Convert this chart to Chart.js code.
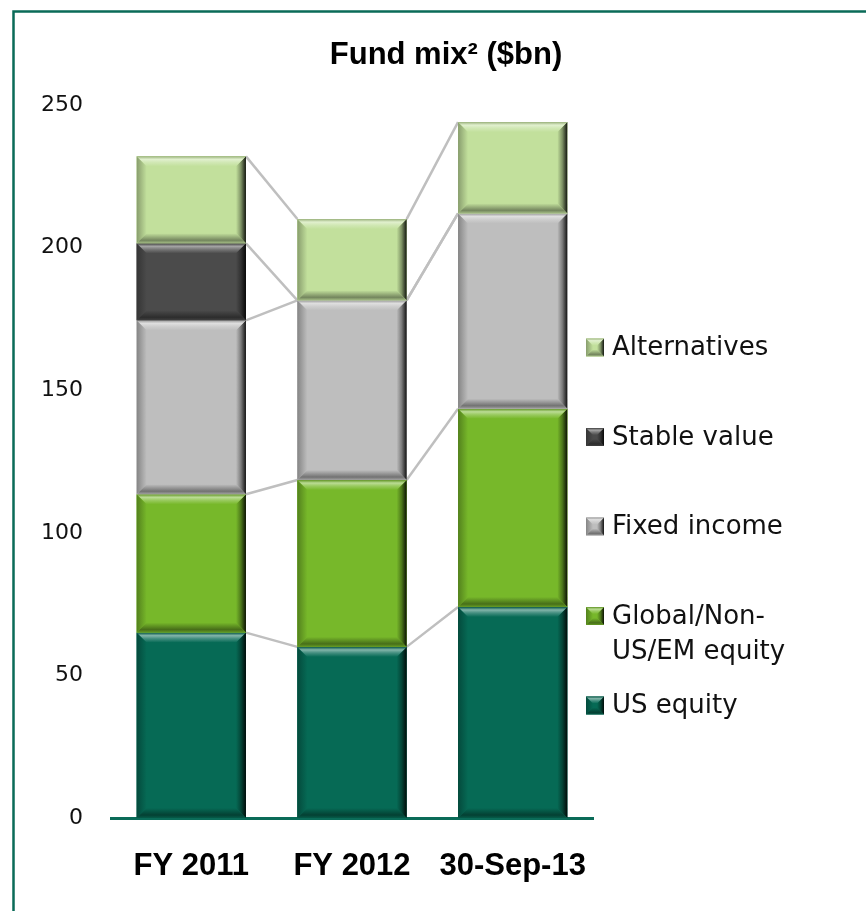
<!DOCTYPE html>
<html>
<head>
<meta charset="utf-8">
<script src="https://cdn.jsdelivr.net/npm/chart.js@4.4.1/dist/chart.umd.min.js"></script>
<style>
  html, body { margin: 0; padding: 0; background: #fff; }
  #chart { display: block; }
</style>
</head>
<body>
<canvas id="chart" width="866" height="911"></canvas>
<script>
// Values ($bn)
const categories = ['FY 2011', 'FY 2012', '30-Sep-13'];
const usEquity = [65, 60, 74];
const globalEquity = [48.5, 58.5, 69.5];
const fixedIncome = [61, 63, 68.5];
const stableValue = [27, 0, 0];
const alternatives = [30.5, 28.5, 32];

const seriesNames = ['US equity', 'Global/Non-US/EM equity', 'Fixed income', 'Stable value', 'Alternatives'];
const legendLines = [['US equity'], ['Global/Non-', 'US/EM equity'], ['Fixed income'], ['Stable value'], ['Alternatives']];
const seriesColors = ['#066A55', '#77B82A', '#BEBEBE', '#4B4B4B', '#C2E09C'];
const yTicks = [0, 50, 100, 150, 200, 250];

const FRAME = '#0A6B58';
const CONNECTOR = '#BFBFBF';

// mix a hex colour with white (f > 0) or black (f < 0)
function mix(hex, f) {
    const n = parseInt(hex.slice(1), 16);
    let r = n >> 16, g = (n >> 8) & 255, b = n & 255;
    const t = f > 0 ? 255 : 0, p = Math.abs(f);
    r = Math.round(r + (t - r) * p);
    g = Math.round(g + (t - g) * p);
    b = Math.round(b + (t - b) * p);
    return `rgb(${r},${g},${b})`;
}

function poly(ctx, pts, fill) {
    ctx.beginPath();
    ctx.moveTo(pts[0][0], pts[0][1]);
    for (let i = 1; i < pts.length; i++) ctx.lineTo(pts[i][0], pts[i][1]);
    ctx.closePath();
    ctx.fillStyle = fill;
    ctx.fill();
}

// Excel style bevel on a rectangle
function bevel(ctx, l, t, r, b, color, size) {
    const s = Math.min(size, (b - t) / 2, (r - l) / 2);
    ctx.fillStyle = color;
    ctx.fillRect(l, t, r - l, b - t);

    let g = ctx.createLinearGradient(l, 0, l + s, 0);
    g.addColorStop(0, mix(color, -0.3));
    g.addColorStop(1, color);
    poly(ctx, [[l, t], [l + s, t + s], [l + s, b - s], [l, b]], g);

    g = ctx.createLinearGradient(r - s, 0, r, 0);
    g.addColorStop(0, color);
    g.addColorStop(0.5, mix(color, -0.35));
    g.addColorStop(1, mix(color, -0.9));
    poly(ctx, [[r, t], [r, b], [r - s, b - s], [r - s, t + s]], g);

    g = ctx.createLinearGradient(0, t, 0, t + s);
    g.addColorStop(0, mix(color, -0.2));
    g.addColorStop(0.3, mix(color, 0.5));
    g.addColorStop(0.6, mix(color, 0.25));
    g.addColorStop(1, color);
    poly(ctx, [[l, t], [r, t], [r - s, t + s], [l + s, t + s]], g);

    g = ctx.createLinearGradient(0, b - s, 0, b);
    g.addColorStop(0, color);
    g.addColorStop(0.7, mix(color, -0.4));
    g.addColorStop(1, mix(color, -0.15));
    poly(ctx, [[l, b], [r, b], [r - s, b - s], [l + s, b - s]], g);
}

const decorPlugin = {
    id: 'decor',
    beforeDraw(chart) {
        const ctx = chart.ctx;
        ctx.save();
        // frame (only top and left edges fall inside the picture)
        ctx.strokeStyle = FRAME;
        ctx.lineWidth = 2.5;
        ctx.beginPath();
        ctx.moveTo(13.5, chart.height + 5);
        ctx.lineTo(13.5, 11.5);
        ctx.lineTo(chart.width + 5, 11.5);
        ctx.stroke();
        // title
        ctx.fillStyle = '#000';
        ctx.font = 'bold 31px "Liberation Sans", Arial, sans-serif';
        ctx.textAlign = 'center';
        ctx.textBaseline = 'alphabetic';
        ctx.fillText('Fund mix\u00B2 ($bn)', 446, 64);
        ctx.restore();
    },
    afterDatasetsDraw(chart) {
        const ctx = chart.ctx;
        ctx.save();
        // connector lines between the tops of matching segments
        ctx.strokeStyle = CONNECTOR;
        ctx.lineWidth = 2.5;
        chart.data.datasets.forEach((ds, di) => {
            const els = chart.getDatasetMeta(di).data;
            for (let i = 0; i < els.length - 1; i++) {
                const a = els[i], b = els[i + 1];
                ctx.beginPath();
                ctx.moveTo(a.x + a.width / 2, a.y);
                ctx.lineTo(b.x - b.width / 2, b.y);
                ctx.stroke();
            }
        });
        // bevelled segments
        chart.data.datasets.forEach((ds, di) => {
            chart.getDatasetMeta(di).data.forEach(el => {
                const top = Math.min(el.y, el.base), bot = Math.max(el.y, el.base);
                if (bot - top < 1) return;
                bevel(ctx, el.x - el.width / 2, top, el.x + el.width / 2, bot, seriesColors[di], 10);
            });
        });
        // legend on the right, top item first
        const x0 = chart.chartArea.right - 7;
        let y = 347.5;
        ctx.font = '26px "DejaVu Sans", sans-serif';
        ctx.textAlign = 'left';
        ctx.textBaseline = 'middle';
        for (let k = seriesNames.length - 1; k >= 0; k--) {
            bevel(ctx, x0, y - 9, x0 + 18, y + 9, seriesColors[k], 7);
            ctx.fillStyle = '#111';
            legendLines[k].forEach((line, j) => ctx.fillText(line, x0 + 26, y + 1 + j * 35));
            y += 89.5;
        }
        ctx.restore();
    }
};

const datasetValues = [usEquity, globalEquity, fixedIncome, stableValue, alternatives];

new Chart(document.getElementById('chart'), {
    type: 'bar',
    data: {
        labels: categories,
        datasets: datasetValues.map((vals, i) => ({
            label: seriesNames[i],
            data: vals,
            backgroundColor: seriesColors[i],
            borderWidth: 0,
            barPercentage: 0.68,
            categoryPercentage: 1
        }))
    },
    options: {
        responsive: false,
        animation: false,
        devicePixelRatio: 1,
        layout: { padding: { top: 105, right: 273, left: 0, bottom: 0 } },
        plugins: {
            legend: { display: false },
            title: { display: false },
            tooltip: { enabled: false }
        },
        scales: {
            x: {
                stacked: true,
                grid: { display: false, drawTicks: false },
                border: { display: true, color: FRAME, width: 3 },
                ticks: {
                    color: '#000',
                    padding: 30,
                    font: { family: '"Liberation Sans", Arial, sans-serif', size: 31, weight: 'bold' }
                },
                afterFit(scale) { scale.height = 93; }
            },
            y: {
                stacked: true,
                min: 0,
                max: 250,
                grid: { display: false, drawTicks: false },
                border: { display: false },
                afterBuildTicks(scale) { scale.ticks = yTicks.map(v => ({ value: v })); },
                ticks: {
                    color: '#111',
                    padding: 28,
                    font: { family: '"DejaVu Sans", sans-serif', size: 22 }
                },
                afterFit(scale) { scale.width = 111; }
            }
        }
    },
    plugins: [decorPlugin]
});
</script>
</body>
</html>
